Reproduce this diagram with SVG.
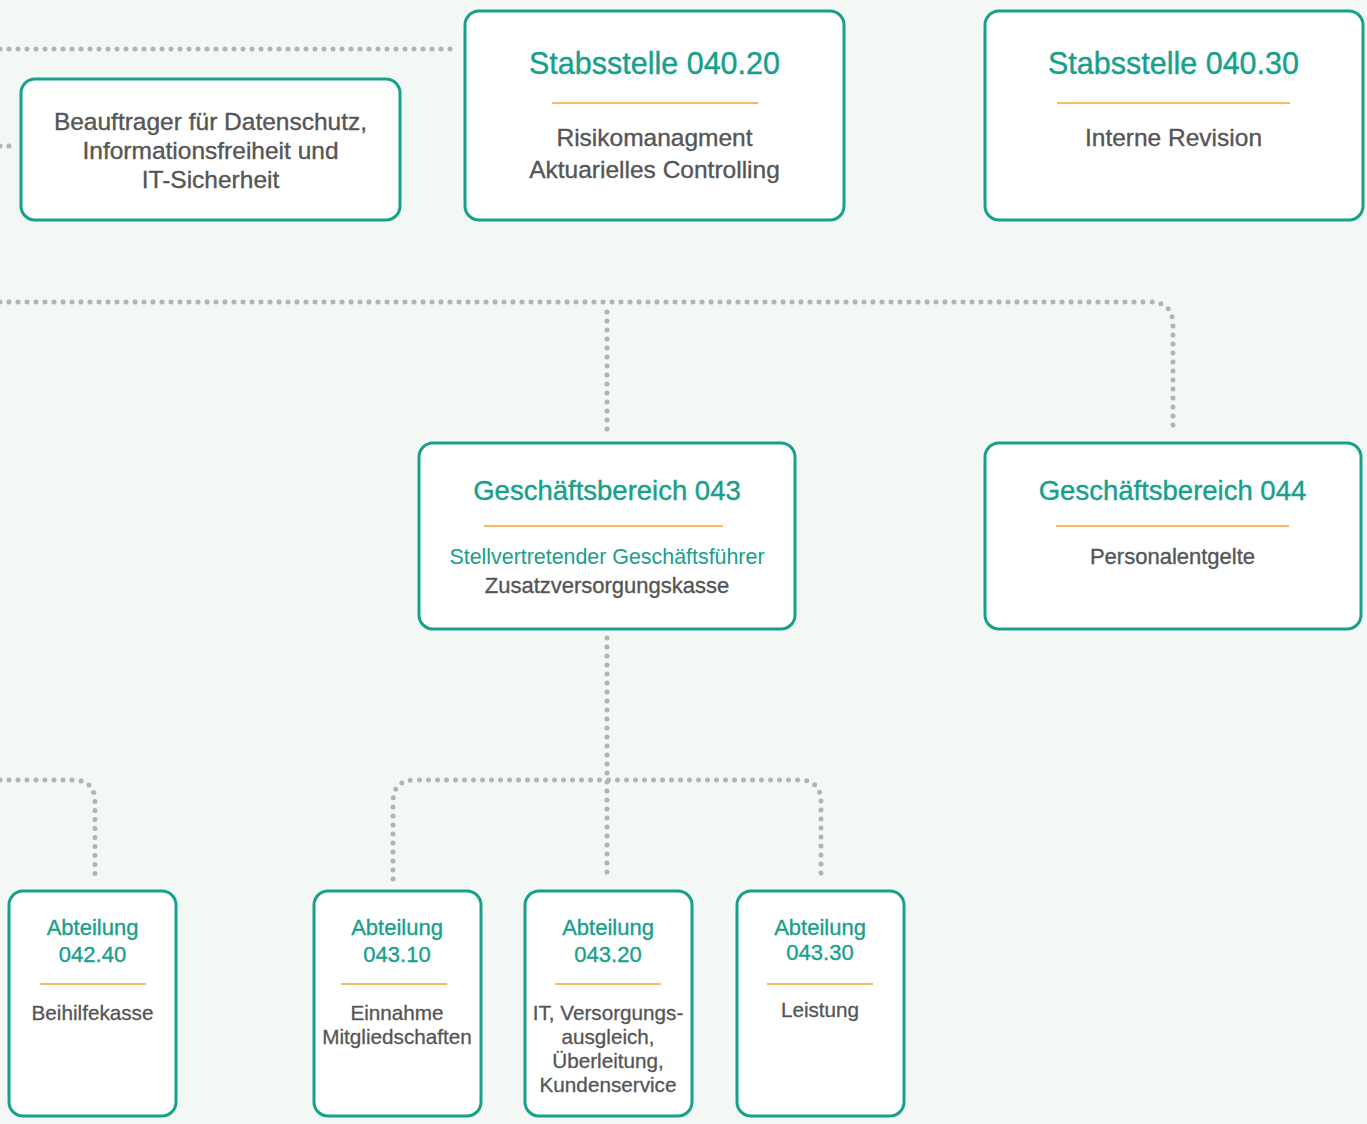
<svg xmlns="http://www.w3.org/2000/svg" width="1367" height="1124" viewBox="0 0 1367 1124">
<style>
.box{fill:#ffffff;stroke:#17a08b;stroke-width:3}
.rule{stroke:#f4a431;stroke-width:1.6}
.dot{fill:none;stroke:#b3b3b3;stroke-width:5;stroke-linecap:round;stroke-dasharray:0 9}
text{font-family:"Liberation Sans",Arial,sans-serif;text-anchor:middle}
.t1{fill:#17a08b;font-size:30.5px;stroke:#17a08b;stroke-width:0.4}
.t2{fill:#17a08b;font-size:27.5px;stroke:#17a08b;stroke-width:0.4}
.t3{fill:#17a08b;font-size:22px;stroke:#17a08b;stroke-width:0.35}
.sub{fill:#17a08b;font-size:21.4px}
.b1{fill:#555555;font-size:24.5px;stroke:#555555;stroke-width:0.35}
.b2{fill:#555555;font-size:22px;stroke:#555555;stroke-width:0.35}
.b3{fill:#555555;font-size:20.7px;stroke:#555555;stroke-width:0.3}
</style>
<rect width="1367" height="1124" fill="#f4f8f5"/>
<g id="connectors">
<path class="dot" d="M0,49 H458"/>
<path class="dot" d="M0,146 H13"/>
<path class="dot" d="M1173,-8 V1"/>
<path class="dot" d="M0,302 H1150 Q1173,302 1173,325 V431"/>
<path class="dot" d="M607,312 V431"/>
<path class="dot" d="M607,638 V879"/>
<path class="dot" d="M393,879 V802 Q393,780 415,780 H799 Q821,780 821,802 V879"/>
<path class="dot" d="M0,780 H73 Q95,780 95,802 V879"/>
</g>
<g id="beauftrager">
<rect class="box" x="21" y="79" width="379" height="141" rx="14"/>
<text class="b1" x="210.5" y="130">Beauftrager für Datenschutz,</text>
<text class="b1" x="210.5" y="159">Informationsfreiheit und</text>
<text class="b1" x="210.5" y="188">IT-Sicherheit</text>
</g>
<g id="stabsstelle-040-20">
<rect class="box" x="465" y="11" width="379" height="209" rx="14"/>
<text class="t1" x="654.5" y="74">Stabsstelle 040.20</text>
<line class="rule" x1="552" y1="103" x2="758" y2="103"/>
<text class="b1" x="654.5" y="146">Risikomanagment</text>
<text class="b1" x="654.5" y="178">Aktuarielles Controlling</text>
</g>
<g id="stabsstelle-040-30">
<rect class="box" x="985" y="11" width="378" height="209" rx="14"/>
<text class="t1" x="1173.5" y="74">Stabsstelle 040.30</text>
<line class="rule" x1="1057" y1="103" x2="1290" y2="103"/>
<text class="b1" x="1173.5" y="146">Interne Revision</text>
</g>
<g id="geschaeftsbereich-043">
<rect class="box" x="419" y="443" width="376" height="186" rx="14"/>
<text class="t2" x="607" y="500">Geschäftsbereich 043</text>
<line class="rule" x1="484" y1="526" x2="723" y2="526"/>
<text class="sub" x="607" y="564">Stellvertretender Geschäftsführer</text>
<text class="b2" x="607" y="593">Zusatzversorgungskasse</text>
</g>
<g id="geschaeftsbereich-044">
<rect class="box" x="985" y="443" width="376" height="186" rx="14"/>
<text class="t2" x="1172.5" y="500">Geschäftsbereich 044</text>
<line class="rule" x1="1056" y1="526" x2="1289" y2="526"/>
<text class="b2" x="1172.5" y="564">Personalentgelte</text>
</g>
<g id="abteilung-042-40">
<rect class="box" x="9" y="891" width="167" height="225" rx="14"/>
<text class="t3" x="92.5" y="935">Abteilung</text>
<text class="t3" x="92.5" y="962">042.40</text>
<line class="rule" x1="40" y1="984" x2="146" y2="984"/>
<text class="b3" x="92.5" y="1020">Beihilfekasse</text>
</g>
<g id="abteilung-043-10">
<rect class="box" x="314" y="891" width="167" height="225" rx="14"/>
<text class="t3" x="397" y="935">Abteilung</text>
<text class="t3" x="397" y="962">043.10</text>
<line class="rule" x1="341" y1="984" x2="447" y2="984"/>
<text class="b3" x="397" y="1020">Einnahme</text>
<text class="b3" x="397" y="1044">Mitgliedschaften</text>
</g>
<g id="abteilung-043-20">
<rect class="box" x="525" y="891" width="167" height="225" rx="14"/>
<text class="t3" x="608" y="935">Abteilung</text>
<text class="t3" x="608" y="962">043.20</text>
<line class="rule" x1="555" y1="984" x2="661" y2="984"/>
<text class="b3" x="608" y="1020">IT, Versorgungs-</text>
<text class="b3" x="608" y="1044">ausgleich,</text>
<text class="b3" x="608" y="1068">Überleitung,</text>
<text class="b3" x="608" y="1092">Kundenservice</text>
</g>
<g id="abteilung-043-30">
<rect class="box" x="737" y="891" width="167" height="225" rx="14"/>
<text class="t3" x="820" y="935">Abteilung</text>
<text class="t3" x="820" y="960">043.30</text>
<line class="rule" x1="767" y1="984" x2="873" y2="984"/>
<text class="b3" x="820" y="1017">Leistung</text>
</g>
</svg>
